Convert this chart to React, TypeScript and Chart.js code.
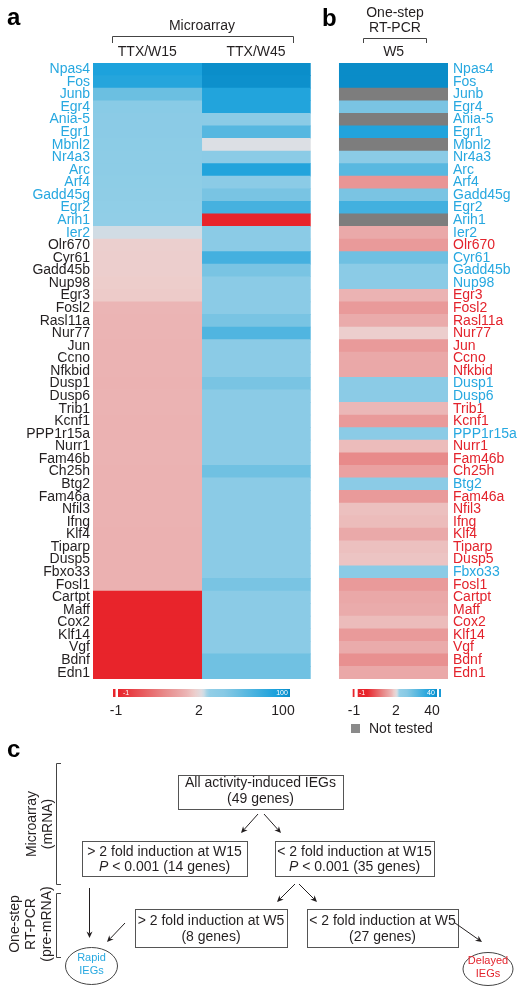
import React, { useEffect, useRef } from 'react';
import { Chart, registerables } from 'chart.js';

Chart.register(...registerables);

const FONT = '"Liberation Sans", Arial, Helvetica, sans-serif';
const INK = '#231f20';
const BLUE_TXT = '#27a8e0';
const RED_TXT = '#e3232c';
const NOT_TESTED = '#7d7d7d';

const GENES = ['Npas4', 'Fos', 'Junb', 'Egr4', 'Ania-5', 'Egr1', 'Mbnl2', 'Nr4a3', 'Arc', 'Arf4', 'Gadd45g', 'Egr2', 'Arih1', 'Ier2',
  'Olr670', 'Cyr61', 'Gadd45b', 'Nup98', 'Egr3', 'Fosl2', 'Rasl11a', 'Nur77', 'Jun', 'Ccno', 'Nfkbid', 'Dusp1', 'Dusp6', 'Trib1',
  'Kcnf1', 'PPP1r15a', 'Nurr1', 'Fam46b', 'Ch25h', 'Btg2', 'Fam46a', 'Nfil3', 'Ifng', 'Klf4', 'Tiparp', 'Dusp5', 'Fbxo33', 'Fosl1',
  'Cartpt', 'Maff', 'Cox2', 'Klf14', 'Vgf', 'Bdnf', 'Edn1'];

const COLUMNS = ['TTX/W15', 'TTX/W45', 'W5'];

// Microarray fold induction, TTX/W15
const W15 = [50, 42, 9.6, 4.4, 4, 4, 3.8, 3.6, 3.5, 3.3, 3.2, 3, 2.9, 2.05,
  1.74, 1.72, 1.72, 1.7, 1.68,
  1.42, 1.41, 1.41, 1.4, 1.4, 1.4, 1.39, 1.4, 1.4, 1.39, 1.39, 1.4, 1.4, 1.39, 1.39, 1.38, 1.38, 1.38, 1.37, 1.37, 1.37, 1.37, 1.37,
  -1, -1, -1, -1, -1, -1, -1];

// Microarray fold induction, TTX/W45
const W45 = [95, 90, 45, 45, 4, 15, 2, 4, 45, 4, 7, 21, -1, 4, 4, 22, 7, 4, 4, 4, 7, 17, 4, 4, 4, 7, 4, 4, 4, 4, 4, 4, 8.5,
  4, 4, 4, 4, 4, 4, 4, 4, 7, 4, 4, 4, 4, 4, 8.5, 8.5];

// One-step RT-PCR fold induction, W5 (null = not tested)
const W5: (number | null)[] = [40, 40, null, 5.2, null, 22, null, 3.4, 9, 0.86, 5.2, 12.8, null, 1.22, 0.95, 6.2, 3.4, 3.4,
  1.4, 0.95, 1.25, 1.72, 0.95, 1.2, 1.2, 3.4, 3.4, 1.45, 0.95, 3.4, 1.5, 0.65, 1.07, 3.4, 0.95, 1.55, 1.5, 1.22, 1.55, 1.6,
  3.4, 0.95, 1.2, 1.25, 1.5, 0.95, 1.25, 0.77, 1.2];

const SCALE_MAX = [100, 100, 40];
const CBAR_TICKS_A = ['-1', '2', '100'];
const CBAR_TICKS_B = ['-1', '2', '40'];

// x-extent of each heatmap column on the linear x scale
const COL_SPANS: [number, number][] = [[0, 1], [1, 2], [2.266, 3.266]];
const X_MAX = 3.266;

const RED_STOPS: [number, string][] = [[0, '#dcdfe4'], [0.1, '#edcdcb'], [0.2, '#ebb3b3'], [0.35, '#e99a9a'], [0.45, '#e88a8a'], [1, '#e8242b']];
const BLUE_STOPS: [number, string][] = [[0, '#d8dee4'], [0.06, '#93cfe7'], [0.25, '#86c9e5'], [0.4, '#6bbfe1'], [0.55, '#4fb5e0'],
  [0.7, '#34aadd'], [0.85, '#18a0dc'], [1, '#0a8cc8']];

function hex(c: string) {
  return [parseInt(c.slice(1, 3), 16), parseInt(c.slice(3, 5), 16), parseInt(c.slice(5, 7), 16)];
}
function interp(stops: [number, string][], t: number) {
  t = Math.max(0, Math.min(1, t));
  for (let i = 1; i < stops.length; i++) {
    if (t <= stops[i][0]) {
      const [t0, c0] = stops[i - 1];
      const [t1, c1] = stops[i];
      const f = (t - t0) / (t1 - t0);
      const a = hex(c0), b = hex(c1);
      const r = a.map((v, k) => Math.round(v + (b[k] - v) * f));
      return `rgb(${r[0]},${r[1]},${r[2]})`;
    }
  }
  return stops[stops.length - 1][1];
}
function heatColor(v: number | null, max: number) {
  if (v == null) return NOT_TESTED;
  if (v <= 2) return interp(RED_STOPS, (2 - v) / 3);
  return interp(BLUE_STOPS, Math.log(v / 2) / Math.log(max / 2));
}

const isRapidA = (i: number) => W15[i] > 2;
const isRapidB = (i: number) => W15[i] > 2 || (W5[i] ?? 0) > 2;

function txt(ctx: CanvasRenderingContext2D, s: string, x: number, y: number,
  o: { size?: number; color?: string; align?: CanvasTextAlign; weight?: string; style?: string; baseline?: CanvasTextBaseline } = {}) {
  ctx.font = `${o.style || 'normal'} ${o.weight || 'normal'} ${o.size || 14}px ${FONT}`;
  ctx.fillStyle = o.color || INK;
  ctx.textAlign = o.align || 'center';
  ctx.textBaseline = o.baseline || 'middle';
  ctx.fillText(s, x, y);
}
function runs(ctx: CanvasRenderingContext2D, parts: [string, boolean][], cx: number, y: number, size = 14) {
  const ws = parts.map(([s, it]) => { ctx.font = `${it ? 'italic ' : ''}${size}px ${FONT}`; return ctx.measureText(s).width; });
  let x = cx - ws.reduce((a, b) => a + b, 0) / 2;
  parts.forEach(([s, it], k) => { txt(ctx, s, x, y, { size, align: 'left', style: it ? 'italic' : 'normal' }); x += ws[k]; });
}
function vtxt(ctx: CanvasRenderingContext2D, s: string, x: number, y: number) {
  ctx.save(); ctx.translate(x, y); ctx.rotate(-Math.PI / 2); txt(ctx, s, 0, 0); ctx.restore();
}
function line(ctx: CanvasRenderingContext2D, pts: number[][], color = '#444') {
  ctx.strokeStyle = color; ctx.lineWidth = 1; ctx.beginPath();
  pts.forEach(([x, y], i) => (i ? ctx.lineTo(x, y) : ctx.moveTo(x, y)));
  ctx.stroke();
}
function arrow(ctx: CanvasRenderingContext2D, x1: number, y1: number, x2: number, y2: number) {
  const a = Math.atan2(y2 - y1, x2 - x1);
  const L = 6.5, W = 3;
  line(ctx, [[x1, y1], [x2 - Math.cos(a) * L * 0.7, y2 - Math.sin(a) * L * 0.7]], INK);
  ctx.fillStyle = INK; ctx.beginPath();
  ctx.moveTo(x2, y2);
  ctx.lineTo(x2 - L * Math.cos(a) + W * Math.sin(a), y2 - L * Math.sin(a) - W * Math.cos(a));
  ctx.lineTo(x2 - L * Math.cos(a) * 0.7, y2 - L * Math.sin(a) * 0.7);
  ctx.lineTo(x2 - L * Math.cos(a) - W * Math.sin(a), y2 - L * Math.sin(a) + W * Math.cos(a));
  ctx.closePath(); ctx.fill();
}
function box(ctx: CanvasRenderingContext2D, x0: number, y0: number, x1: number, y1: number) {
  ctx.strokeStyle = '#555'; ctx.lineWidth = 1;
  ctx.strokeRect(Math.round(x0) + 0.5, Math.round(y0) + 0.5, Math.round(x1 - x0), Math.round(y1 - y0));
}
function ellipse(ctx: CanvasRenderingContext2D, cx: number, cy: number, rx: number, ry: number) {
  ctx.strokeStyle = '#444'; ctx.lineWidth = 1; ctx.beginPath();
  ctx.ellipse(cx, cy, rx, ry, 0, 0, Math.PI * 2); ctx.stroke();
}
function gradientBar(ctx: CanvasRenderingContext2D, x0: number, xMid: number, x1: number, y: number, h: number, max: number) {
  const g = ctx.createLinearGradient(x0, 0, x1, 0);
  const n = 60;
  for (let i = 0; i <= n; i++) {
    const f = i / n;
    const x = x0 + f * (x1 - x0);
    const v = x <= xMid ? -1 + 3 * (x - x0) / (xMid - x0) : 2 * Math.pow(max / 2, (x - xMid) / (x1 - xMid));
    g.addColorStop(f, heatColor(v, max));
  }
  ctx.fillStyle = g;
  ctx.fillRect(x0, y, x1 - x0, h);
}

const overlay = {
  id: 'overlay',
  afterDraw(chart: any) {
    const ctx: CanvasRenderingContext2D = chart.ctx;
    const xs = chart.scales.x;
    const cx = COL_SPANS.map(([a, b]) => (xs.getPixelForValue(a) + xs.getPixelForValue(b)) / 2);
    ctx.save();

    // panel letters
    txt(ctx, 'a', 7, 25, { size: 24, weight: 'bold', align: 'left', baseline: 'alphabetic', color: '#000' });
    txt(ctx, 'b', 322, 26, { size: 24, weight: 'bold', align: 'left', baseline: 'alphabetic', color: '#000' });
    txt(ctx, 'c', 7, 757, { size: 24, weight: 'bold', align: 'left', baseline: 'alphabetic', color: '#000' });

    // headers panel a
    txt(ctx, 'Microarray', 202, 26);
    line(ctx, [[112.5, 43], [112.5, 36.5], [293.5, 36.5], [293.5, 43]]);
    txt(ctx, COLUMNS[0], cx[0], 52);
    txt(ctx, COLUMNS[1], cx[1], 52);
    // headers panel b
    txt(ctx, 'One-step', 395, 13);
    txt(ctx, 'RT-PCR', 395, 28);
    line(ctx, [[363.5, 43], [363.5, 38.5], [426.5, 38.5], [426.5, 43]]);
    txt(ctx, COLUMNS[2], cx[2], 52);

    // colour bar panel a
    const cy = 689, ch = 8;
    ctx.fillStyle = '#e8242b'; ctx.fillRect(113, cy, 2.5, ch);
    gradientBar(ctx, 118, 203, 290, cy, ch, SCALE_MAX[0]);
    txt(ctx, '-1', 126, cy + 4.5, { size: 7, color: '#fff' });
    txt(ctx, '100', 282, cy + 4.5, { size: 7, color: '#fff' });
    txt(ctx, CBAR_TICKS_A[0], 116, 711);
    txt(ctx, CBAR_TICKS_A[1], 199, 711);
    txt(ctx, CBAR_TICKS_A[2], 283, 711);

    // colour bar panel b
    ctx.fillStyle = '#e8242b'; ctx.fillRect(352.7, cy, 1.8, ch);
    ctx.fillRect(357.7, cy, 9.5, ch);
    gradientBar(ctx, 367, 397, 437, cy, ch, SCALE_MAX[2]);
    ctx.fillStyle = '#1a9ad6'; ctx.fillRect(439, cy, 2, ch);
    txt(ctx, '-1', 362, cy + 4.5, { size: 7, color: '#fff' });
    txt(ctx, '40', 431, cy + 4.5, { size: 7, color: '#fff' });
    txt(ctx, CBAR_TICKS_B[0], 354, 711);
    txt(ctx, CBAR_TICKS_B[1], 396, 711);
    txt(ctx, CBAR_TICKS_B[2], 432, 711);

    // not tested legend
    ctx.fillStyle = '#8a8a8a'; ctx.fillRect(351, 724, 9, 9);
    txt(ctx, 'Not tested', 369, 729, { align: 'left' });

    // panel c: side brackets
    line(ctx, [[61, 763.5], [56.5, 763.5], [56.5, 884.5], [61, 884.5]]);
    vtxt(ctx, 'Microarray', 32, 824);
    vtxt(ctx, '(mRNA)', 48, 824);
    line(ctx, [[61, 893.5], [56.5, 893.5], [56.5, 957.5], [61, 957.5]]);
    vtxt(ctx, 'One-step', 15, 924);
    vtxt(ctx, 'RT-PCR', 31, 924);
    vtxt(ctx, '(pre-mRNA)', 47, 924);

    // boxes
    box(ctx, 178, 775, 343, 809);
    txt(ctx, 'All activity-induced IEGs', 260.5, 783);
    txt(ctx, '(49 genes)', 260.5, 799);
    arrow(ctx, 258, 814, 241, 833);
    arrow(ctx, 264, 814, 281, 833);

    box(ctx, 82, 841, 247, 876);
    txt(ctx, '> 2 fold induction at W15', 164.5, 852);
    runs(ctx, [['P', true], [' < 0.001 (14 genes)', false]], 164.5, 867);
    box(ctx, 275, 841, 434, 876);
    txt(ctx, '< 2 fold induction at W15', 354.5, 852);
    runs(ctx, [['P', true], [' < 0.001 (35 genes)', false]], 354.5, 867);

    arrow(ctx, 295, 884, 277, 902);
    arrow(ctx, 299, 884, 317, 902);
    arrow(ctx, 89.5, 888, 89.5, 938);

    box(ctx, 135, 909, 287, 947);
    txt(ctx, '> 2 fold induction at W5', 211, 921);
    txt(ctx, '(8 genes)', 211, 937);
    box(ctx, 307, 909, 458, 947);
    txt(ctx, '< 2 fold induction at W5', 382.5, 921);
    txt(ctx, '(27 genes)', 382.5, 937);

    arrow(ctx, 125, 923, 107, 942);
    arrow(ctx, 455, 923, 482, 942);

    ellipse(ctx, 91.5, 966, 26, 18.5);
    txt(ctx, 'Rapid', 91.5, 958, { size: 11, color: BLUE_TXT });
    txt(ctx, 'IEGs', 91.5, 971, { size: 11, color: BLUE_TXT });
    ellipse(ctx, 488, 969, 25, 16.5);
    txt(ctx, 'Delayed', 488, 961, { size: 11, color: RED_TXT });
    txt(ctx, 'IEGs', 488, 974, { size: 11, color: RED_TXT });

    ctx.restore();
  },
};

export default function App() {
  const ref = useRef<HTMLCanvasElement>(null);
  useEffect(() => {
    const canvas = ref.current;
    if (!canvas) return;
    const series = [W15, W45, W5];
    const chart = new Chart(canvas, {
      type: 'bar',
      data: {
        labels: GENES,
        datasets: series.map((vals, k) => ({
          label: COLUMNS[k],
          data: GENES.map(() => COL_SPANS[k]) as any,
          backgroundColor: vals.map((v) => heatColor(v, SCALE_MAX[k])),
          borderWidth: 0,
          barPercentage: 1,
          categoryPercentage: 1,
          grouped: false,
          xAxisID: 'x',
          yAxisID: 'y',
        })),
      },
      options: {
        responsive: false,
        animation: false,
        devicePixelRatio: 1,
        indexAxis: 'y',
        events: [],
        layout: { padding: { top: 63, bottom: 314, left: 0, right: 0 } },
        plugins: { legend: { display: false }, tooltip: { enabled: false }, title: { display: false } },
        scales: {
          x: { type: 'linear', min: 0, max: X_MAX, display: false },
          y: {
            type: 'category', position: 'left', offset: true,
            grid: { display: false, drawTicks: false, offset: true }, border: { display: false },
            ticks: {
              autoSkip: false, padding: 3, font: { family: FONT, size: 14 },
              color: (c: any) => (isRapidA(c.index) ? BLUE_TXT : INK),
            },
            afterFit: (s: any) => { s.width = 93; },
          },
          y2: {
            type: 'category', position: 'right', offset: true, labels: GENES,
            grid: { display: false, drawTicks: false, offset: true }, border: { display: false },
            ticks: {
              autoSkip: false, padding: 5, font: { family: FONT, size: 14 },
              color: (c: any) => (isRapidB(c.index) ? BLUE_TXT : RED_TXT),
            },
            afterFit: (s: any) => { s.width = 81; },
          },
        },
      } as any,
      plugins: [overlay],
    });
    return () => chart.destroy();
  }, []);
  return (
    <div style={{ position: 'absolute', left: 0, top: 0, width: 529, height: 993, background: '#fff' }}>
      <canvas ref={ref} width={529} height={993} style={{ display: 'block', width: 529, height: 993 }} />
    </div>
  );
}
